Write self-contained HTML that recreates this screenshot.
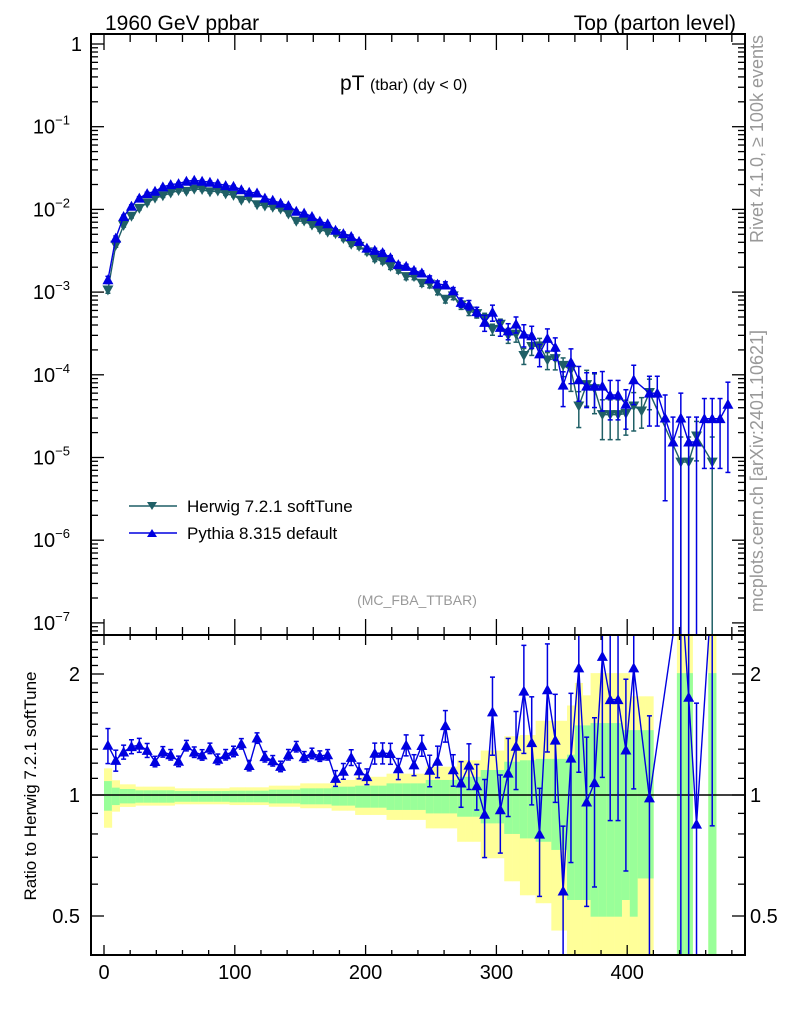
<!DOCTYPE html>
<html><head><meta charset="utf-8"><title>pT (tbar) (dy &lt; 0)</title>
<style>
html,body{margin:0;padding:0;background:#fff;width:786px;height:1024px;overflow:hidden;}
svg{display:block;font-family:"Liberation Sans",sans-serif;}
</style></head>
<body>
<svg id="chart" width="786" height="1024" viewBox="0 0 786 1024" xmlns="http://www.w3.org/2000/svg">
<defs>
<clipPath id="clipMain"><rect x="91" y="34" width="654" height="601"/></clipPath>
<clipPath id="clipRatio"><rect x="91" y="635" width="654" height="320"/></clipPath>
</defs>
<rect x="0" y="0" width="786" height="1024" fill="#fff"/>
<g id="ratioBands" clip-path="url(#clipRatio)"></g>
<line x1="91" y1="795" x2="745" y2="795" stroke="#000" stroke-width="1.5"/>
<g id="mainSeries" clip-path="url(#clipMain)"></g>
<g id="ratioSeries" clip-path="url(#clipRatio)"></g>
<g id="axes"></g>
<rect x="91" y="34" width="654" height="601" fill="none" stroke="#000" stroke-width="2"/>
<rect x="91" y="635" width="654" height="320" fill="none" stroke="#000" stroke-width="2"/>

<text x="105" y="30" font-size="21">1960 GeV ppbar</text>
<text x="736" y="30" font-size="21" text-anchor="end">Top (parton level)</text>
<text x="340" y="90" font-size="21">pT <tspan font-size="16">(tbar) (dy &lt; 0)</tspan></text>
<text x="417" y="605" font-size="14" fill="#999" text-anchor="middle">(MC_FBA_TTBAR)</text>
<text transform="translate(763,35) rotate(-90)" font-size="18" fill="#999" text-anchor="end">Rivet 4.1.0, ≥ 100k events</text>
<text transform="translate(763,330) rotate(-90)" font-size="18" fill="#999" text-anchor="end">mcplots.cern.ch [arXiv:2401.10621]</text>
<text transform="translate(36,786) rotate(-90)" font-size="17" text-anchor="middle">Ratio to Herwig 7.2.1 softTune</text>

<g>
<g>
<line x1="129" y1="506" x2="177" y2="506" stroke="#1f5f66" stroke-width="1.5"/>
<polygon points="147,502 157,502 152,510" fill="#1f5f66"/>
<text x="187" y="512" font-size="17">Herwig 7.2.1 softTune</text>
</g>
<g>
<line x1="129" y1="533" x2="177" y2="533" stroke="#0000e0" stroke-width="1.5"/>
<polygon points="147,537 157,537 152,529" fill="#0000e0"/>
<text x="187" y="539" font-size="17">Pythia 8.315 default</text>
</g>
</g>
</svg>
<script>
const binCenters = [3,9,15,21,27,33,39,45,51,57,63,69,75,81,87,93,99,105,111,117,123,129,135,141,147,153,159,165,171,177,183,189,195,201,207,213,219,225,231,237,243,249,255,261,267,273,279,285,291,297,303,309,315,321,327,333,339,345,351,357,363,369,375,381,387,393,399,405,411,417,423,429,435,441,447,453,459,465,471,477];
const binWidth = 6;
const pythiaValues = [1.41e-3,4.5e-3,8.2e-3,0.0109,0.0137,0.0155,0.0166,0.0187,0.0199,0.0205,
0.0219,0.0225,0.0219,0.0213,0.0205,0.0194,0.019,0.0173,0.0161,0.0158,
0.0137,0.0129,0.0119,0.0111,9.5e-3,9.0e-3,8.2e-3,7.2e-3,6.7e-3,5.6e-3,
5.1e-3,4.7e-3,4.1e-3,3.4e-3,3.2e-3,3.0e-3,2.6e-3,2.15e-3,2.05e-3,1.83e-3,
1.7e-3,1.44e-3,1.25e-3,1.22e-3,1.04e-3,7.5e-4,7.0e-4,5.8e-4,4.3e-4,5.7e-4,
3.75e-4,3.4e-4,4.1e-4,3.1e-4,2.97e-4,1.79e-4,2.76e-4,2.15e-4,7.5e-5,1.42e-4,
8.7e-5,7.3e-5,7.3e-5,7.3e-5,5.7e-5,5.7e-5,4.4e-5,8.7e-5,0,6.0e-5,
6.0e-5,3.0e-5,1.54e-5,3.0e-5,1.54e-5,1.54e-5,2.95e-5,2.95e-5,2.95e-5,4.4e-5];
const herwigValues = [1.06e-3,3.69e-3,6.41e-3,8.26e-3,0.0103,0.0120,0.0137,0.0146,0.0158,0.0169,
0.0165,0.0176,0.0174,0.0163,0.0167,0.0154,0.0148,0.0129,0.0136,0.0114,
0.0110,0.0106,0.0101,8.81e-3,7.2e-3,7.23e-3,6.46e-3,5.76e-3,5.32e-3,5.09e-3,
4.45e-3,3.79e-3,3.57e-3,3.06e-3,2.52e-3,2.36e-3,2.05e-3,1.85e-3,1.54e-3,1.54e-3,
1.28e-3,1.25e-3,1.03e-3,8.2e-4,9.0e-4,7.0e-4,5.9e-4,5.5e-4,4.8e-4,3.54e-4,
4.08e-4,3.0e-4,3.1e-4,1.71e-4,2.2e-4,2.24e-4,1.51e-4,1.57e-4,1.3e-4,1.15e-4,
4.2e-5,7.6e-5,6.8e-5,3.3e-5,3.3e-5,3.3e-5,3.4e-5,4.2e-5,3.65e-5,6.1e-5,
0,0,0,8.8e-6,8.8e-6,1.82e-5,0,8.8e-6,0,0];
const pythiaRelErr = [0.10,0.06,0.04,0.04,0.04,0.04,0.03,0.03,0.03,0.03,
0.03,0.03,0.03,0.03,0.03,0.03,0.03,0.03,0.03,0.03,
0.03,0.03,0.03,0.03,0.03,0.03,0.03,0.03,0.03,0.045,
0.045,0.045,0.045,0.045,0.06,0.06,0.06,0.06,0.06,0.06,
0.06,0.09,0.09,0.09,0.09,0.13,0.13,0.13,0.22,0.22,
0.22,0.22,0.22,0.3,0.3,0.3,0.3,0.3,0.45,0.45,
0.45,0.45,0.45,0.5,0.5,0.5,0.5,0.5,0,0.6,
0.6,0.9,1.0,1.0,1.0,1.0,0.75,0.75,0.75,0.85];
const greenHi = [1.083,1.043,1.035,1.035,1.027,1.027,1.027,1.027,1.027,1.023,
1.023,1.023,1.023,1.023,1.023,1.023,1.025,1.025,1.025,1.025,
1.025,1.031,1.031,1.031,1.031,1.039,1.039,1.039,1.039,1.049,
1.049,1.049,1.055,1.055,1.055,1.055,1.069,1.069,1.069,1.069,
1.069,1.09,1.09,1.09,1.09,1.11,1.11,1.11,1.154,1.154,
1.154,1.21,1.21,1.22,1.22,1.23,1.23,1.23,1.23,1.26,
1.49,1.49,1.51,1.51,1.51,1.51,1.45,1.45,1.45,1.45,
null,null,null,2.01,2.01,null,null,2.01,null,null];
const greenLo = [0.914,0.944,0.953,0.953,0.957,0.957,0.957,0.957,0.957,0.962,
0.962,0.962,0.962,0.962,0.962,0.962,0.959,0.959,0.959,0.959,
0.959,0.953,0.953,0.953,0.953,0.948,0.948,0.948,0.948,0.941,
0.941,0.941,0.93,0.93,0.93,0.93,0.918,0.918,0.918,0.918,
0.918,0.90,0.90,0.90,0.90,0.883,0.883,0.883,0.85,0.85,
0.85,0.80,0.80,0.78,0.78,0.765,0.765,0.73,0.73,0.548,
0.548,0.548,0.498,0.498,0.498,0.498,0.548,0.498,0.62,0.62,
null,null,null,0,0,null,null,0,null,null];
const yellowHi = [1.165,1.088,1.063,1.063,1.049,1.049,1.049,1.049,1.049,1.039,
1.039,1.039,1.039,1.039,1.039,1.039,1.045,1.045,1.045,1.045,
1.045,1.055,1.055,1.055,1.055,1.069,1.069,1.069,1.069,1.09,
1.09,1.09,1.11,1.11,1.11,1.11,1.13,1.13,1.13,1.13,
1.13,1.176,1.176,1.176,1.176,1.22,1.22,1.22,1.29,1.29,
1.29,1.40,1.40,1.41,1.41,1.53,1.53,1.53,1.53,1.67,
1.90,1.77,2.01,2.01,2.01,2.01,2.01,1.76,1.76,1.76,
null,null,null,3,3,null,null,3,null,null];
const yellowLo = [0.829,0.909,0.934,0.934,0.941,0.941,0.941,0.941,0.941,0.948,
0.948,0.948,0.948,0.948,0.948,0.948,0.944,0.944,0.944,0.944,
0.944,0.935,0.935,0.935,0.935,0.927,0.927,0.927,0.927,0.914,
0.914,0.914,0.892,0.892,0.892,0.892,0.867,0.867,0.867,0.867,
0.867,0.826,0.826,0.826,0.826,0.765,0.765,0.765,0.696,0.696,
0.696,0.61,0.61,0.563,0.563,0.538,0.538,0.46,0.46,0,
0,0,0,0,0,0,0,0,0,0,
null,null,null,0,0,null,null,0,null,null];
const xTickValues = [0,100,200,300,400];
const xTickLabels = ["0","100","200","300","400"];
const mainDecades = [0,-1,-2,-3,-4,-5,-6,-7];
const ratioMajorTicks = [0.5,1,2];
const ratioMajorLabels = ["0.5","1","2"];

const NS = "http://www.w3.org/2000/svg";
const X0 = 104, XS = 1.308;
function xp(v){ return X0 + v*XS; }
function yMain(v){ return Math.min(637, Math.max(30, 44 - Math.log10(Math.max(v,1e-9))*82.7)); }
function yRat(r){ return Math.min(957, Math.max(630, 795 - Math.log2(Math.max(r,0.2))*121)); }
function mk(tag, attrs, parent){
  const e = document.createElementNS(NS, tag);
  for (const k in attrs) e.setAttribute(k, attrs[k]);
  parent.appendChild(e);
  return e;
}
const TEAL = "#1f5f66", BLUE = "#0000e0";
const mainG = document.getElementById("mainSeries");
const ratioG = document.getElementById("ratioSeries");
const bandG = document.getElementById("ratioBands");
const axesG = document.getElementById("axes");

for (let i=0;i<binCenters.length;i++){
  const x1 = xp(binCenters[i]-binWidth/2), x2 = xp(binCenters[i]+binWidth/2);
  if (yellowHi[i]!==null){
    const r = mk("rect",{x:x1,y:yRat(yellowHi[i]),width:x2-x1+0.3,height:yRat(yellowLo[i])-yRat(yellowHi[i]),fill:"#ffff99"},bandG);
    
    
  }
  if (greenHi[i]!==null){
    const r = mk("rect",{x:x1,y:yRat(greenHi[i]),width:x2-x1+0.3,height:yRat(greenLo[i])-yRat(greenHi[i]),fill:"#99ff99"},bandG);
    
    
  }
}

function tri(parent, x, y, up, color, name){
  const pts = up ? [[x-5.5,y+4.5],[x+5.5,y+4.5],[x,y-5.5]] : [[x-5.5,y-4.5],[x+5.5,y-4.5],[x,y+5.5]];
  const p = mk("polygon",{points:pts.map(a=>a.join(",")).join(" "),fill:color},parent);
  
  
}
function errBar(parent, x, yTop, yBot, color, name){
  const g = mk("g",{stroke:color,"stroke-width":1.5},parent);
  
  
  mk("line",{x1:x,y1:yTop,x2:x,y2:yBot},g);
  mk("line",{x1:x-2.5,y1:yTop,x2:x+2.5,y2:yTop},g);
  mk("line",{x1:x-2.5,y1:yBot,x2:x+2.5,y2:yBot},g);
}

function drawMain(vals, upErr, dnErr, color, up, name){
  const pts = [];
  for (let i=0;i<vals.length;i++){ if (vals[i]>0) pts.push([xp(binCenters[i]), yMain(vals[i]), i]); }
  const pl = mk("polyline",{points:pts.map(p=>p[0]+","+p[1]).join(" "),fill:"none",stroke:color,"stroke-width":1.4},mainG);
  
  
  for (const p of pts){
    const i = p[2], v = vals[i];
    const lo = v*(1-dnErr(i)), hi = v*(1+upErr(i));
    errBar(mainG, p[0], yMain(hi), lo>0 ? yMain(lo) : 637, color, name+'-error-bar');
    tri(mainG, p[0], p[1], up, color, name+'-point');
  }
}
drawMain(herwigValues, i=>(greenHi[i]!==null?greenHi[i]-1:0.5), i=>(greenLo[i]!==null?1-greenLo[i]:0.5), TEAL, false, 'herwig');
drawMain(pythiaValues, i=>pythiaRelErr[i], i=>pythiaRelErr[i], BLUE, true, 'pythia');

(function(){
  const pts = [];
  for (let i=0;i<binCenters.length;i++){
    if (pythiaValues[i]>0 && herwigValues[i]>0){
      const r = pythiaValues[i]/herwigValues[i];
      pts.push([xp(binCenters[i]), 795 - Math.log2(r)*121, i]);
    }
  }
  const pl = mk("polyline",{points:pts.map(p=>p[0]+","+p[1]).join(" "),fill:"none",stroke:BLUE,"stroke-width":1.4},ratioG);
  
  
  for (const p of pts){
    const i = p[2], r = pythiaValues[i]/herwigValues[i], e = pythiaRelErr[i];
    errBar(ratioG, p[0], yRat(r*(1+e)), r*(1-e)>0 ? yRat(r*(1-e)) : 957, BLUE, 'pythia-ratio-error-bar');
    if (p[1] < 625) continue;
    tri(ratioG, p[0], p[1], true, BLUE, 'pythia-ratio-point');
  }
})();

function tick(x1,y1,x2,y2,name){
  const l = mk("line",{x1:x1,y1:y1,x2:x2,y2:y2,stroke:"#000","stroke-width":1.3},axesG);
  
  
}
for (let v=0; v<=480; v+=20){
  const x = xp(v), maj = (v%100===0);
  tick(x,34,x,34+(maj?16:8),'x-tick-main-top');
  tick(x,635,x,635-(maj?16:8),'x-tick-main-bottom');
  tick(x,635,x,635+(maj?10:5),'x-tick-ratio-top');
  tick(x,955,x,955-(maj?10:5),'x-tick-ratio-bottom');
}
xTickValues.forEach((v,k)=>{
  const t = mk("text",{x:xp(v),y:979,"font-size":20,"text-anchor":"middle"},axesG);
  t.textContent = xTickLabels[k];
  
  
});
mainDecades.forEach(d=>{
  const y = yMain(Math.pow(10,d));
  tick(91,y,104,y,'y-tick-major-left');
  tick(745,y,732,y,'y-tick-major-right');
  const t = mk("text",{x:82,y:y+7,"font-size":20,"text-anchor":"end"},axesG);
  
  
  if (d===0){ t.textContent = "1"; }
  else {
    t.setAttribute('x', 70);
    t.textContent = "10";
    const s = mk("tspan",{"font-size":13,dy:-9},t);
    s.textContent = "\u2212"+(-d);
  }
  if (d>-8){
    for (let m=2;m<=9;m++){
      const ym = 44 - Math.log10(m*Math.pow(10,d-1))*82.7;
      if (ym>635) continue;
      tick(91,ym,98,ym,'y-tick-minor-left');
      tick(745,ym,738,ym,'y-tick-minor-right');
    }
  }
});
for (let m=2;m<=9;m++){ const ym=44 - Math.log10(m)*82.7; if (ym>=34){ tick(91,ym,98,ym,'y-tick-minor-left'); tick(745,ym,738,ym,'y-tick-minor-right'); } }
for (let k=4;k<=25;k++){
  const r = k/10, y = 795 - Math.log2(r)*121;
  if (y<635 || y>955) continue;
  const maj = (k===5||k===10||k===20);
  tick(91,y,91+(maj?13:7),y,'ratio-y-tick-left');
  tick(745,y,745-(maj?13:7),y,'ratio-y-tick-right');
}
ratioMajorTicks.forEach((r,k)=>{
  const y = yRat(r);
  const t1 = mk("text",{x:80,y:y+7,"font-size":20,"text-anchor":"end"},axesG);
  t1.textContent = ratioMajorLabels[k];
  
  
  const t2 = mk("text",{x:750,y:y+7,"font-size":20},axesG);
  t2.textContent = ratioMajorLabels[k];
  
  
});
</script>
</body></html>
